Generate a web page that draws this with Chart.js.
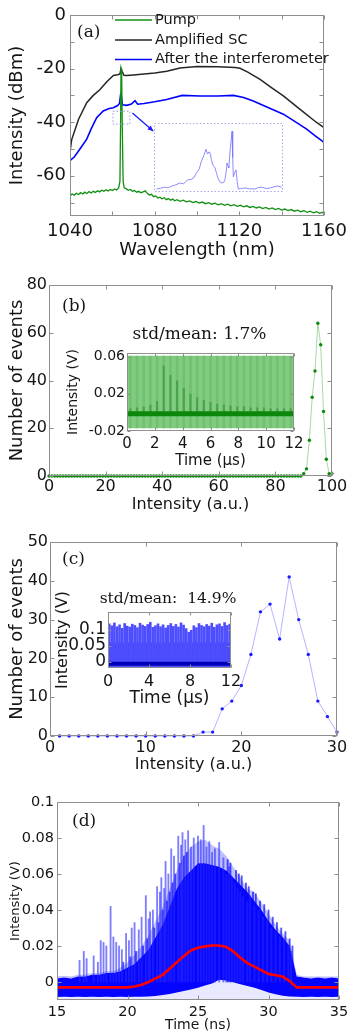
<!DOCTYPE html>
<html><head><meta charset="utf-8">
<script src="https://cdn.jsdelivr.net/npm/chart.js@4.4.1/dist/chart.umd.min.js"></script>
<style>
html,body{margin:0;padding:0;background:#fff;}
body{position:relative;width:349px;height:1034px;overflow:hidden;}
canvas{position:absolute;left:0;top:0;}
</style></head><body>
<script>
// ---------- Panel (a) data ----------
const aXTicks=[1040,1060,1080,1100,1120,1140,1160];
const aXLabels=['1040','','1080','','1120','','1160'];
const aYTicks=[-70,-60,-50,-40,-30,-20,-10,0];
const aYLabels=['','-60','','-40','','-20','','0'];
const aPumpWl=[1040,1041,1042,1043,1044,1045,1046,1047,1048,1049,1050,1051,1052,1053,1054,1055,1056,1057,1058,1059,1060,1061,1062,1063,1063.6,1063.9,1064.1,1064.4,1064.7,1065.1,1065.6,1066.5,1067.5,1068.5,1069.5,1070.5,1071.5,1072.5,1073.5,1074.5,1075.5,1076.5,1077.5,1078.5,1079.5,1080.5,1081.5,1082.5,1083.5,1084.5,1085.5,1086.5,1087.5,1088.5,1089.5,1090.5,1092,1093.5,1095,1096.5,1098,1099.5,1101,1102.5,1104,1105.5,1107,1108.5,1110,1111.5,1113,1114.5,1116,1117.5,1119,1120.5,1122,1123.5,1125,1126.5,1128,1129.5,1131,1132.5,1134,1135.5,1137,1138.5,1140,1141.5,1143,1144.5,1146,1147.5,1149,1150.5,1152,1153.5,1155,1156.5,1158,1159,1160];
const aPumpDbm=[-67.5,-66.8,-67.2,-66.5,-67,-66.3,-66.8,-66.1,-66.6,-65.9,-66.4,-65.8,-66.2,-65.6,-66,-65.4,-65.8,-65.2,-65.7,-65.1,-65.5,-64.9,-65.3,-64.5,-62,-40,-20,-21,-42,-62,-64.5,-64.8,-65.4,-65.1,-65.8,-65.5,-66.1,-65.8,-66.3,-66,-65.6,-66.5,-67.2,-66.9,-67.8,-67.5,-68.3,-68,-68.6,-68.2,-68.9,-68.5,-69.1,-68.7,-69.3,-68.9,-69.5,-69.1,-69.7,-69.4,-70,-69.6,-70.2,-69.8,-70.4,-70,-70.6,-70.2,-70.8,-70.4,-71,-70.6,-71.2,-70.8,-71.4,-71,-71.6,-71.2,-71.8,-71.4,-72,-71.6,-72.2,-71.8,-72.4,-72,-72.6,-72.2,-72.8,-72.4,-73,-72.6,-73.2,-72.8,-73.4,-73,-73.6,-73.2,-73.8,-73.4,-74,-73.6,-74.2];
const aSCWl=[1040,1040.8,1044,1047.9,1051,1054.2,1057.5,1060.5,1062.5,1063.6,1064.1,1064.6,1065.5,1066.8,1070,1075,1080,1085.7,1092,1100,1110,1118,1120.3,1124,1129.8,1135,1140.8,1148.7,1156.5,1160];
const aSCDbm=[-51,-46.5,-39,-32.7,-30,-27.8,-24.8,-22.6,-22.3,-22,-20,-21,-22.5,-22.6,-22.4,-22,-21.6,-21,-19.8,-19.2,-19.3,-19.6,-19.9,-21.3,-24,-27,-30.2,-35.2,-40.1,-42];
const aAfterWl=[1040,1042,1044.7,1047.9,1050,1052.6,1055.7,1058.5,1060.5,1062.5,1063.4,1063.9,1064.3,1064.8,1066.8,1069,1070.7,1072,1075,1080,1085.7,1093,1101.4,1110,1117.2,1122,1126.6,1133,1140.8,1146,1151.8,1156,1158.9,1160];
const aAfterDbm=[-54.3,-53,-50,-46.3,-42.5,-38.3,-35.8,-34.9,-34.6,-33.8,-33,-29.8,-30.5,-33.5,-33.7,-33.2,-32,-33.3,-33,-32.4,-31.5,-30,-30.2,-30.2,-30,-30.8,-32.1,-34.3,-37,-39.6,-42.6,-45.2,-46.9,-47.5];
const aZoomBox=[1060.3,1068.3,-35.9,-40.7];      // x1,x2,y1,y2 (nm, dBm)
const aArrow=[1069.5,-36.6,1079.3,-43.3];        // from (nm,dBm) to (nm,dBm)
// zoomed inset (relative units 0-100)
const aZoomX=[2,5,8,11,14,17,20,23,26,29,31,33,35,37,38.5,40.3,41.5,42.5,43.4,44.5,45.7,47.3,48.5,49.6,51,52.7,54,55,56,56.6,57.5,58,59,60.5,61,61.5,62.5,63.6,64.5,65.3,68,70.5,74,78,81,83.7,87,90,93,96,99];
const aZoomY=[4.3,5.5,7,6.2,8.7,10.5,13,12,17.4,18.5,21,28,33,46,52,62,55,58,57,47,39,35,27,20,15,13,14,17.4,30,42,37,35,60,88,50,22,28,32,15,4.3,5.2,5.8,4.8,4.3,6.5,7,5,5.8,7.5,8.7,7];

// ---------- Panel (b) data ----------
const bXTicks=[0,20,40,60,80,100];
const bXLabels=['0','20','40','60','80','100'];
const bYTicks=[0,20,40,60,80];
const bYLabels=['0','20','40','60','80'];
const bCounts=[
 0,0,0,0,0,0,0,0,0,0, 0,0,0,0,0,0,0,0,0,0, 0,0,0,0,0,0,0,0,0,0,
 0,0,0,0,0,0,0,0,0,0, 0,0,0,0,0,0,0,0,0,0, 0,0,0,0,0,0,0,0,0,0,
 0,0,0,0,0,0,0,0,0,0, 0,0,0,0,0,0,0,0,0,0, 0,0,0,0,0,0,0,0,0,0,
 1,3,15,33,44,64,55,27,7,1, 1];
const bInXTicks=[0,2,4,6,8,10,12];
const bInXLabels=['0','2','4','6','8','10','12'];
const bInYTicks=[-0.02,0.02,0.06];
const bInYLabels=['-0.02','0.02','0.06'];
const bEnvT=[0,12], bEnvHi=[0.061,0.061], bEnvLo=-0.017;
const bBandT=[0,12], bBandV=[-0.0015,-0.0015];
const bPulseT=[0.24,0.72,1.2,1.68,2.16,2.64,3.12,3.6,4.08,4.56,5.04,5.52,6.0,6.48,6.96,7.44,7.92,8.4,8.88,9.36,9.84,10.32,10.8,11.28,11.76];
const bPulseTop=[0.004,0.005,0.006,0.008,0.012,0.05,0.04,0.034,0.026,0.02,0.016,0.013,0.011,0.009,0.008,0.007,0.006,0.006,0.005,0.005,0.005,0.004,0.004,0.004,0.004];

// ---------- Panel (c) data ----------
const cXTicks=[0,10,20,30];
const cXLabels=['0','10','20','30'];
const cYTicks=[0,10,20,30,40,50];
const cYLabels=['0','10','20','30','40','50'];
const cCounts=[0,0,0,0,0,0,0,0,0,0,0,0,0,0,0,1,1,7,9,13,21,32,34,25,41,30,21,9,5,1]; // bins 1..30
const cInXTicks=[0,4,8,12];
const cInXLabels=['0','4','8','12'];
const cInYTicks=[0,0.05,0.1];
const cInYLabels=['0','0.05','0.1'];
const cPulseT=[0.125,0.375,0.625,0.875,1.125,1.375,1.625,1.875,2.125,2.375,2.625,2.875,3.125,3.375,3.625,3.875,4.125,4.375,4.625,4.875,5.125,5.375,5.625,5.875,6.125,6.375,6.625,6.875,7.125,7.375,7.625,7.875,8.125,8.375,8.625,8.875,9.125,9.375,9.625,9.875,10.125,10.375,10.625,10.875,11.125,11.375,11.625,11.875];
const cPulseHi=[0.118,0.112,0.121,0.109,0.115,0.104,0.119,0.111,0.108,0.117,0.113,0.106,0.12,0.114,0.11,0.116,0.123,0.107,0.112,0.118,0.109,0.115,0.105,0.113,0.119,0.11,0.116,0.108,0.121,0.114,0.103,0.092,0.098,0.112,0.106,0.119,0.113,0.109,0.116,0.111,0.12,0.107,0.115,0.118,0.11,0.122,0.113,0.117];
const cPulseLo=-0.016;
const cDenseT=[0,12], cDenseHi=[0.06,0.06];
const cBandT=[0,12], cBandV=[-0.007,-0.007];

// ---------- Panel (d) data ----------
const dXTicks=[15,20,25,30,35];
const dXLabels=['15','20','25','30','35'];
const dYTicks=[0,0.02,0.04,0.06,0.08,0.1];
const dYLabels=['0','0.02','0.04','0.06','0.08','0.1'];
const dT=[15,15.5,16,16.5,17,17.5,18,18.5,19,19.5,20,20.5,21,21.5,22,22.5,23,23.5,24,24.5,25,25.5,26,26.5,27,27.5,28,28.5,29,29.5,30,30.5,31,31.5,32,32.5,33,33.5,34,34.5,35];
const dUpper=[0.002,0.0025,0.002,0.003,0.003,0.004,0.004,0.005,0.005,0.006,0.008,0.01,0.014,0.018,0.025,0.032,0.042,0.052,0.058,0.062,0.066,0.066,0.065,0.064,0.062,0.058,0.054,0.05,0.045,0.04,0.034,0.029,0.025,0.02,0.003,0.0025,0.002,0.0025,0.002,0.0025,0.002];
const dLower=[-0.0083,-0.0082,-0.0083,-0.0082,-0.0083,-0.0082,-0.0083,-0.0082,-0.0083,-0.0082,-0.0083,-0.0082,-0.0082,-0.008,-0.0078,-0.0072,-0.0066,-0.0058,-0.005,-0.0042,-0.0032,-0.002,-0.0008,0.0012,0.0008,-0.0002,-0.0012,-0.0022,-0.0032,-0.0045,-0.0058,-0.0068,-0.0076,-0.008,-0.0082,-0.0083,-0.0082,-0.0083,-0.0082,-0.0083,-0.0082];
const dHaze=[0.003,0.0035,0.003,0.004,0.004,0.005,0.005,0.006,0.006,0.008,0.011,0.015,0.02,0.026,0.034,0.042,0.052,0.062,0.07,0.075,0.078,0.079,0.076,0.074,0.07,0.064,0.058,0.052,0.05,0.044,0.038,0.032,0.027,0.023,0.004,0.003,0.003,0.003,0.003,0.003,0.003];
const dMean=[-0.003,-0.003,-0.003,-0.003,-0.003,-0.003,-0.003,-0.003,-0.003,-0.003,-0.003,-0.0025,-0.0015,0,0.002,0.004,0.0075,0.011,0.0145,0.0175,0.019,0.0198,0.0203,0.0203,0.0195,0.017,0.0135,0.0105,0.0085,0.0065,0.0045,0.0038,0.003,0.0005,-0.003,-0.003,-0.003,-0.003,-0.003,-0.003,-0.003];
const dSpikeT=[16.6,16.9,17.1,17.6,17.9,18.1,18.3,18.5,18.8,19.0,19.2,19.4,19.6,19.9,20.1,20.3,20.5,20.8,21.0,21.3,21.5,21.6,21.8,22.1,22.3,22.4,22.6,22.7,22.9,23.1,23.3,23.6,23.8,23.9,24.1,24.3,24.5,24.7,25.0,25.2,25.4,25.6,25.8,26.0,26.2,26.5,26.8,27.0,27.2,27.4,27.6,27.8,28.0,28.2,28.5,28.7,29.0,29.3,29.6,29.9,30.2,30.5,30.8,31.1,31.4,31.6];
const dSpikeV=[0.012,0.017,0.013,0.0145,0.011,0.023,0.022,0.02,0.042,0.025,0.022,0.02,0.018,0.027,0.023,0.03,0.033,0.029,0.036,0.048,0.035,0.039,0.04,0.053,0.05,0.058,0.052,0.067,0.06,0.074,0.07,0.081,0.076,0.083,0.079,0.084,0.075,0.08,0.081,0.079,0.087,0.075,0.078,0.072,0.074,0.0775,0.069,0.06,0.064,0.0585,0.055,0.052,0.05,0.0475,0.045,0.048,0.042,0.04,0.036,0.034,0.03,0.028,0.025,0.024,0.02,0.017];
const dFineT=[19.7,20.2,20.6,21.1,21.4,21.9,22.2,22.5,22.8,23.0,23.2,23.4,23.7,24.0,24.2,27.1,27.3,27.7,27.9,28.1,28.4,28.6,28.9,29.1,29.4,29.7,30.0,30.3,30.6,30.9,31.2,31.5,31.7];
const dFineV=[0.011,0.014,0.017,0.02,0.024,0.03,0.033,0.04,0.045,0.05,0.055,0.06,0.066,0.07,0.072,0.068,0.066,0.062,0.06,0.059,0.055,0.053,0.05,0.049,0.045,0.043,0.04,0.036,0.033,0.03,0.028,0.024,0.02];

// ---------- helpers ----------
const TXT='#151515', AX='#8e8e8e';
const SANS="'DejaVu Sans', sans-serif", SERIF="'DejaVu Serif', serif";
Chart.defaults.font.family=SANS;
Chart.defaults.color=TXT;
const pts=(xs,ys)=>xs.map((x,i)=>({x:x,y:ys[i]}));

function linAxis(pos,o){
  const horiz=(pos==='bottom'||pos==='top');
  return {
    type:'linear',position:pos,display:o.display!==false,min:o.min,max:o.max,offset:false,
    grid:{display:false,drawTicks:false},border:{display:false},
    afterBuildTicks:s=>{ if(o.ticks) s.ticks=o.ticks.map(v=>({value:v})); },
    ticks:{display:!!o.ticks,autoSkip:false,maxRotation:0,minRotation:0,padding:o.pad||0,color:TXT,
      font:{size:o.ts||16,family:SANS},callback:(v,i)=>(o.labels?o.labels[i]:'')},
    title:{display:!!o.title,text:o.title||'',color:TXT,font:{size:o.tts||16,family:SANS},padding:0},
    afterFit:s=>{ if(horiz){s.height=o.size||0;} else {s.width=o.size||0;}
      s.paddingLeft=0;s.paddingRight=0;s.paddingTop=0;s.paddingBottom=0; }
  };
}
function makeChart(box,yW,xH,cfg){
  const c=document.createElement('canvas'); c.width=349; c.height=1034;
  c.style.width='349px'; c.style.height='1034px';
  document.body.appendChild(c);
  const o=cfg.options;
  o.responsive=false; o.maintainAspectRatio=false; o.animation=false; o.events=[]; o.devicePixelRatio=1;
  o.layout={autoPadding:false,padding:{left:box.l-yW,top:box.t,right:349-box.r,bottom:1034-box.b-xH}};
  o.plugins=Object.assign({legend:{display:false},tooltip:{enabled:false}},o.plugins||{});
  return new Chart(c,cfg);
}

// box with inward ticks
const boxPlugin={id:'boxAx',afterDraw(ch,args,o){
  if(!o||!o.on) return;
  const ctx=ch.ctx,a=ch.chartArea; ctx.save();
  ctx.strokeStyle=o.color||AX; ctx.lineWidth=1; if(o.dash) ctx.setLineDash(o.dash);
  const L=Math.round(a.left)+0.5,R=Math.round(a.right)-0.5,T=Math.round(a.top)+0.5,B=Math.round(a.bottom)-0.5;
  ctx.strokeRect(L,T,R-L,B-T);
  if(o.tick){
    const xs=ch.scales.x,ys=ch.scales.y,k=o.tick; ctx.beginPath();
    xs.ticks.forEach(t=>{const p=Math.round(xs.getPixelForValue(t.value))+0.5; ctx.moveTo(p,B);ctx.lineTo(p,B-k);ctx.moveTo(p,T);ctx.lineTo(p,T+k);});
    ys.ticks.forEach(t=>{const p=Math.round(ys.getPixelForValue(t.value))+0.5; ctx.moveTo(L,p);ctx.lineTo(L+k,p);ctx.moveTo(R,p);ctx.lineTo(R-k,p);});
    ctx.stroke();
  }
  ctx.restore();
}};
// free text labels relative to chart area
const txtPlugin={id:'txt',afterDraw(ch,args,o){
  if(!o||!o.items) return;
  const ctx=ch.ctx,a=ch.chartArea;
  o.items.forEach(it=>{ctx.save();ctx.font=it.font;ctx.fillStyle=it.color||TXT;ctx.textAlign=it.align||'left';
    ctx.textBaseline='middle';ctx.fillText(it.text,a.left+it.dx,a.top+it.dy);ctx.restore();});
}};
// legend drawn inside plot
const legPlugin={id:'leg',afterDraw(ch,args,o){
  if(!o||!o.on) return;
  const ctx=ch.ctx,a=ch.chartArea;
  ch.data.datasets.forEach((ds,i)=>{
    if(!ds.label) return; const y=a.top+o.rows[i];
    ctx.save(); ctx.strokeStyle=ds.borderColor; ctx.lineWidth=o.lw;
    ctx.beginPath(); ctx.moveTo(a.left+o.x1,y); ctx.lineTo(a.left+o.x2,y); ctx.stroke();
    ctx.font=o.font; ctx.fillStyle=TXT; ctx.textBaseline='middle'; ctx.textAlign='left';
    ctx.fillText(ds.label,a.left+o.tx,y); ctx.restore();
  });
}};
// zoom box + arrow annotation
const annPlugin={id:'ann',afterDatasetsDraw(ch,args,o){
  if(!o||!o.box) return;
  const xs=ch.scales.x,ys=ch.scales.y,ctx=ch.ctx,b=o.box,a=o.arrow;
  ctx.save();
  const x1=xs.getPixelForValue(b[0]),x2=xs.getPixelForValue(b[1]),y1=ys.getPixelForValue(b[2]),y2=ys.getPixelForValue(b[3]);
  ctx.strokeStyle=o.boxColor; ctx.lineWidth=1; ctx.setLineDash([1.5,2]); ctx.strokeRect(x1,y1,x2-x1,y2-y1);
  ctx.setLineDash([]);
  const ax1=xs.getPixelForValue(a[0]),ay1=ys.getPixelForValue(a[1]),ax2=xs.getPixelForValue(a[2]),ay2=ys.getPixelForValue(a[3]);
  ctx.strokeStyle=o.arrowColor; ctx.fillStyle=o.arrowColor; ctx.lineWidth=1.3;
  ctx.beginPath(); ctx.moveTo(ax1,ay1); ctx.lineTo(ax2,ay2); ctx.stroke();
  const ang=Math.atan2(ay2-ay1,ax2-ax1),h=6;
  ctx.beginPath(); ctx.moveTo(ax2,ay2);
  ctx.lineTo(ax2-h*Math.cos(ang-0.45),ay2-h*Math.sin(ang-0.45));
  ctx.lineTo(ax2-h*Math.cos(ang+0.45),ay2-h*Math.sin(ang+0.45));
  ctx.closePath(); ctx.fill();
  ctx.restore();
}};
Chart.register(boxPlugin,txtPlugin,legPlugin,annPlugin);

// ---------- (a) main ----------
makeChart({l:70,t:15,r:324,b:216},63.8,44.8,{
  type:'line',
  data:{datasets:[
    {label:'Pump',data:pts(aPumpWl,aPumpDbm),borderColor:'#118f11',borderWidth:1.3,pointRadius:0,order:0},
    {label:'Amplified SC',data:pts(aSCWl,aSCDbm),borderColor:'#262626',borderWidth:1.5,pointRadius:0,order:2},
    {label:'After the interferometer',data:pts(aAfterWl,aAfterDbm),borderColor:'#0000ff',borderWidth:1.6,pointRadius:0,order:1}
  ]},
  options:{
    scales:{
      x:linAxis('bottom',{min:1040,max:1160,ticks:aXTicks,labels:aXLabels,pad:4.2,ts:18,title:'Wavelength (nm)',tts:18,size:44.8}),
      y:linAxis('left',{min:-75,max:0,ticks:aYTicks,labels:aYLabels,pad:4,ts:18,title:'Intensity (dBm)',tts:18,size:63.8})
    },
    plugins:{
      boxAx:{on:true,tick:4},
      leg:{on:true,x1:45,x2:82,tx:85,rows:[5,25,44.5],font:"14.5px 'DejaVu Sans'",lw:1.5},
      txt:{items:[{text:'(a)',dx:7,dy:18,font:"17px 'DejaVu Serif'"}]},
      ann:{box:aZoomBox,arrow:aArrow,boxColor:'rgba(140,140,230,0.9)',arrowColor:'#1a1aff'}
    }
  }
});
// (a) zoomed inset
makeChart({l:154,t:123,r:283,b:192},0,0,{
  type:'line',
  data:{datasets:[{data:pts(aZoomX,aZoomY),borderColor:'rgba(120,120,255,0.85)',borderWidth:1,pointRadius:0}]},
  options:{
    scales:{x:{type:'linear',display:false,min:0,max:100},y:{type:'linear',display:false,min:0,max:100}},
    plugins:{boxAx:{on:true,color:'rgba(150,150,235,0.85)',dash:[1.5,2]}}
  }
});

// ---------- (b) main ----------
makeChart({l:49,t:285,r:332,b:476},42.8,38.6,{
  type:'line',
  data:{datasets:[{data:bCounts.map((v,i)=>({x:i,y:v})),borderColor:'rgba(60,170,60,0.45)',borderWidth:1,
    pointRadius:1.7,pointBorderWidth:0,pointBackgroundColor:'#0a8a0a',clip:false}]},
  options:{
    scales:{
      x:linAxis('bottom',{min:0,max:100,ticks:bXTicks,labels:bXLabels,pad:1,ts:16,title:'Intensity (a.u.)',tts:16,size:38.6}),
      y:linAxis('left',{min:0,max:80,ticks:bYTicks,labels:bYLabels,pad:2,ts:16,title:'Number of events',tts:18,size:42.8})
    },
    plugins:{boxAx:{on:true,tick:4},txt:{items:[{text:'(b)',dx:13,dy:22,font:"17px 'DejaVu Serif'"}]}}
  }
});
// (b) inset
makeChart({l:127,t:353,r:294,b:431},62.4,39,{
  type:'line',
  data:{datasets:[
    {data:pts(bBandT,bBandV),borderColor:'#0b870b',borderWidth:5,pointRadius:0,order:0},
    {type:'bar',data:bPulseT.map((t,i)=>({x:t,y:[-0.003,bPulseTop[i]]})),backgroundColor:'rgba(0,110,0,0.35)',barThickness:1.5,grouped:false,order:1},
    {type:'bar',data:bPulseT.map(t=>({x:t,y:[bEnvLo,bEnvHi[0]]})),backgroundColor:'rgba(0,120,0,0.13)',barThickness:2,grouped:false,order:2},
    {data:pts(bEnvT,bEnvHi),borderWidth:0,pointRadius:0,fill:{value:bEnvLo},backgroundColor:'rgb(130,204,130)',order:3}
  ]},
  options:{
    scales:{
      x:linAxis('bottom',{min:0,max:12,ticks:bInXTicks,labels:bInXLabels,pad:4,ts:15,title:'Time (\u03bcs)',tts:15,size:39}),
      y:linAxis('left',{min:-0.02,max:0.064,ticks:bInYTicks,labels:bInYLabels,pad:2,ts:14,title:'Intensity (V)',tts:14,size:62.4})
    },
    plugins:{boxAx:{on:true,tick:3},txt:{items:[{text:'std/mean: 1.7%',dx:72.5,dy:-18,align:'center',font:"17px 'DejaVu Serif'"}]}}
  }
});

// ---------- (c) main ----------
makeChart({l:50,t:542,r:337,b:736},43.8,38.6,{
  type:'line',
  data:{datasets:[{data:cCounts.map((v,i)=>({x:i+1,y:v})),borderColor:'rgba(120,120,255,0.55)',borderWidth:1,
    pointRadius:1.7,pointBorderWidth:0,pointBackgroundColor:'#1a1aff',clip:false}]},
  options:{
    scales:{
      x:linAxis('bottom',{min:0,max:30,ticks:cXTicks,labels:cXLabels,pad:2.4,ts:16,title:'Intensity (a.u.)',tts:16,size:38.6}),
      y:linAxis('left',{min:0,max:50,ticks:cYTicks,labels:cYLabels,pad:2,ts:16,title:'Number of events',tts:18,size:43.8})
    },
    plugins:{boxAx:{on:true,tick:4},txt:{items:[{text:'(c)',dx:12,dy:18,font:"17px 'DejaVu Serif'"}]}}
  }
});
// (c) inset
makeChart({l:108,t:612,r:231,b:668},54.6,41.2,{
  type:'line',
  data:{datasets:[
    {data:pts(cBandT,cBandV),borderColor:'rgb(0,0,185)',borderWidth:4,pointRadius:0,order:0},
    {type:'bar',data:cPulseT.map((t,i)=>({x:t,y:[cPulseLo,cPulseHi[i]]})),backgroundColor:'rgb(78,78,255)',barThickness:2,grouped:false,order:1},
    {data:pts(cDenseT,cDenseHi),borderWidth:0,pointRadius:0,fill:{value:cPulseLo},backgroundColor:'rgb(60,60,250)',order:2}
  ]},
  options:{
    scales:{
      x:linAxis('bottom',{min:0,max:12,ticks:cInXTicks,labels:cInXLabels,pad:4.4,ts:16,title:'Time (\u03bcs)',tts:17,size:41.2}),
      y:linAxis('left',{min:-0.02,max:0.155,ticks:cInYTicks,labels:cInYLabels,pad:2,ts:17,title:'Intensity (V)',tts:16,size:54.6})
    },
    plugins:{boxAx:{on:true,tick:3},txt:{items:[{text:'std/mean:  14.9%',dx:60,dy:-13,align:'center',font:"15.5px 'DejaVu Serif'"}]}}
  }
});

// ---------- (d) ----------
makeChart({l:57,t:802,r:339,b:1000},48.8,33.4,{
  type:'line',
  data:{datasets:[
    {data:pts(dT,dLower),borderWidth:0,pointRadius:0,fill:{value:-0.0095},backgroundColor:'rgba(90,90,255,0.14)',order:6},
    {data:pts(dT,dUpper),borderWidth:0,pointRadius:0,fill:0,backgroundColor:'rgb(5,5,255)',order:5},
    {data:pts(dT,dHaze),borderWidth:0,pointRadius:0,fill:1,backgroundColor:'rgba(60,60,255,0.33)',order:4},
    {type:'bar',data:dFineT.map((t,i)=>({x:t,y:[0,dFineV[i]]})),backgroundColor:'rgba(10,10,255,0.7)',barThickness:1.2,grouped:false,order:3},
    {type:'bar',data:dSpikeT.map((t,i)=>({x:t,y:[0,dSpikeV[i]]})),backgroundColor:'rgba(40,40,255,0.6)',barThickness:1.2,grouped:false,order:2},
    {data:pts(dT,dMean),borderColor:'#ff0000',borderWidth:2.6,pointRadius:0,order:1}
  ]},
  options:{
    scales:{
      x:linAxis('bottom',{min:15,max:35,ticks:dXTicks,labels:dXLabels,pad:3.3,ts:14.5,title:'Time (ns)',tts:14,size:33.4}),
      y:linAxis('left',{min:-0.01,max:0.1,ticks:dYTicks,labels:dYLabels,pad:3,ts:14.5,title:'Intensity (V)',tts:13,size:48.8})
    },
    plugins:{boxAx:{on:true,tick:4},txt:{items:[{text:'(d)',dx:15,dy:20,font:"17px 'DejaVu Serif'"}]}}
  }
});
</script>
</body></html>
